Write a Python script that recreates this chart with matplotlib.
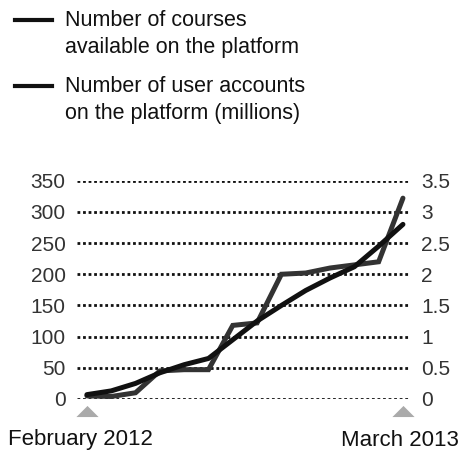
import matplotlib.pyplot as plt
from matplotlib.lines import Line2D

plt.rcParams['font.family'] = ['Liberation Sans', 'DejaVu Sans']

# months since February 2012
months = list(range(14))
courses = [5, 4, 10, 45, 47, 47, 118, 122, 200, 202, 210, 215, 220, 322]
users = [0.07, 0.13, 0.25, 0.42, 0.55, 0.65, 0.95, 1.25, 1.5, 1.74, 1.94, 2.12, 2.45, 2.8]

left_ticks = [0, 50, 100, 150, 200, 250, 300, 350]
right_labels = ['0', '0.5', '1', '1.5', '2', '2.5', '3', '3.5']
legend_labels = ['Number of courses\navailable on the platform',
                 'Number of user accounts\non the platform (millions)']
date_labels = ['February 2012', 'March 2013']

W, H = 465, 455
fig = plt.figure(figsize=(W / 100, H / 100), dpi=100)
ax = fig.add_axes([76.7 / W, 1 - 399 / H, (410 - 76.7) / W, (399 - 180.7) / H])

ax.set_xlim(-0.42, 13.29)
ax.set_ylim(0, 350)
ax.set_yticks(left_ticks)
ax.set_xticks([])

ax.grid(axis='y', color='#111111', linestyle=(0, (1, 1.0)), linewidth=2.0)
ax.set_axisbelow(True)

for s in ax.spines.values():
    s.set_visible(False)
ax.tick_params(axis='y', length=0, pad=8, labelsize=15, labelcolor='#333333')

ax2 = ax.twinx()
ax2.set_ylim(0, 3.5)
ax2.set_yticks([i * 0.5 for i in range(8)])
ax2.set_yticklabels(right_labels)
for s in ax2.spines.values():
    s.set_visible(False)
ax2.tick_params(axis='y', length=0, pad=8, labelsize=15, labelcolor='#333333')

ax.plot(months, courses, color='#333333', lw=3.6, solid_joinstyle='miter',
        solid_capstyle='round', clip_on=False, zorder=3)
ax2.plot(months, users, color='#111111', lw=3.6, solid_capstyle='round',
         clip_on=False, zorder=4)

# grey date markers under the axis
tri = [(-1, -0.5), (1, -0.5), (0, 0.5), (-1, -0.5)]
ax.plot([months[0], months[-1]], [-20, -20], linestyle='none', marker=tri,
        markersize=16, color='#aaaaaa', markeredgewidth=0, clip_on=False)

fig.text(8 / W, 1 - 440 / H, date_labels[0], fontsize=16, color='#111111',
         ha='left', va='center')
fig.text(459 / W, 1 - 440 / H, date_labels[1], fontsize=16, color='#111111',
         ha='right', va='center')

# legend
for i, lab in enumerate(legend_labels):
    y0 = 20 + i * 66
    fig.add_artist(Line2D([15 / W, 52 / W], [1 - y0 / H, 1 - y0 / H],
                          color='#111111', lw=3, transform=fig.transFigure))
    fig.text(65 / W, 1 - (y0 - 10) / H, lab, fontsize=15.5, color='#111111',
             ha='left', va='top', linespacing=1.35)

fig.savefig('out.png', dpi=100)
